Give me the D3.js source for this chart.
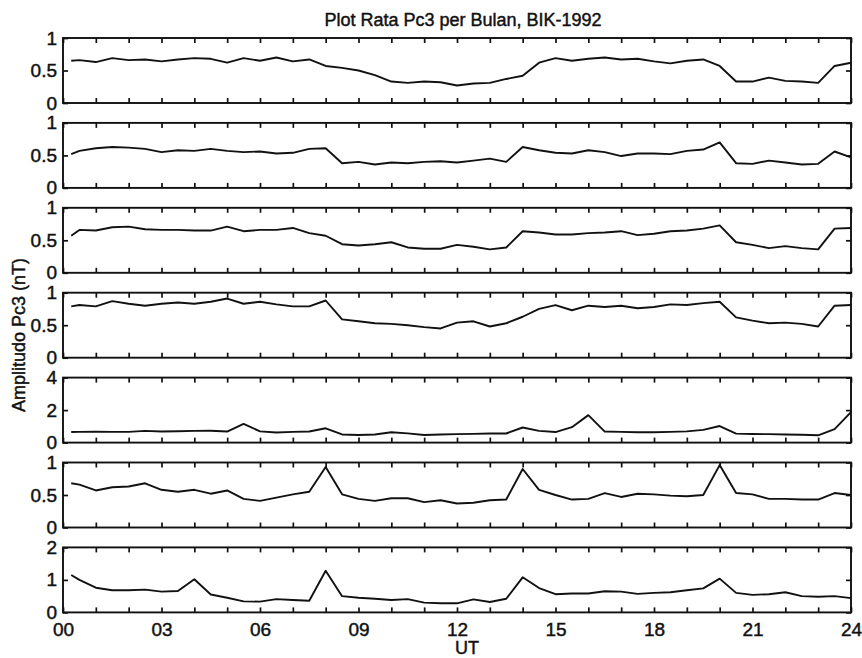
<!DOCTYPE html>
<html>
<head>
<meta charset="utf-8">
<title>Plot Rata Pc3 per Bulan, BIK-1992</title>
<script src="https://cdn.jsdelivr.net/npm/d3@7"></script>
<style>
  html, body { margin: 0; padding: 0; background: #fff; }
  svg { display: block; font-family: 'Liberation Sans', Arial, sans-serif; }
</style>
</head>
<body>
<div id="diagram"></div>
<script>
// - - - - - - - - - -
// data
const hours = [0.25, 0.5, 1, 1.5, 2, 2.5, 3, 3.5, 4, 4.5,
  5, 5.5, 6, 6.5, 7, 7.5, 8, 8.5, 9, 9.5,
  10, 10.5, 11, 11.5, 12, 12.5, 13, 13.5, 14, 14.5,
  15, 15.5, 16, 16.5, 17, 17.5, 18, 18.5, 19, 19.5,
  20, 20.5, 21, 21.5, 22, 22.5, 23, 23.5, 24];

const panel1 = [0.65, 0.66, 0.63, 0.69, 0.66, 0.67, 0.64, 0.67, 0.69, 0.68,
  0.62, 0.69, 0.65, 0.70, 0.64, 0.67, 0.57, 0.54, 0.50, 0.43,
  0.33, 0.31, 0.33, 0.32, 0.27, 0.30, 0.31, 0.37, 0.42, 0.62,
  0.69, 0.65, 0.68, 0.70, 0.67, 0.68, 0.64, 0.61, 0.65, 0.67,
  0.57, 0.33, 0.33, 0.39, 0.34, 0.33, 0.31, 0.57, 0.62];
const panel2 = [0.52, 0.57, 0.61, 0.63, 0.62, 0.60, 0.55, 0.58, 0.57, 0.60,
  0.57, 0.55, 0.56, 0.53, 0.54, 0.60, 0.61, 0.38, 0.40, 0.36,
  0.39, 0.38, 0.40, 0.41, 0.39, 0.42, 0.45, 0.40, 0.63, 0.58,
  0.54, 0.53, 0.58, 0.55, 0.49, 0.53, 0.53, 0.52, 0.57, 0.59,
  0.70, 0.38, 0.37, 0.42, 0.39, 0.36, 0.37, 0.56, 0.47];
const panel3 = [0.57, 0.66, 0.65, 0.70, 0.71, 0.67, 0.66, 0.66, 0.65, 0.65,
  0.71, 0.64, 0.66, 0.66, 0.69, 0.61, 0.57, 0.44, 0.42, 0.44,
  0.47, 0.39, 0.37, 0.37, 0.43, 0.40, 0.36, 0.39, 0.64, 0.62,
  0.59, 0.59, 0.61, 0.62, 0.64, 0.58, 0.60, 0.64, 0.65, 0.68,
  0.73, 0.47, 0.43, 0.38, 0.41, 0.38, 0.36, 0.68, 0.69];
const panel4 = [0.79, 0.81, 0.79, 0.87, 0.83, 0.80, 0.83, 0.85, 0.83, 0.86,
  0.91, 0.83, 0.86, 0.82, 0.79, 0.79, 0.88, 0.59, 0.56, 0.53,
  0.52, 0.50, 0.47, 0.45, 0.54, 0.56, 0.48, 0.53, 0.63, 0.75,
  0.81, 0.73, 0.80, 0.78, 0.80, 0.76, 0.78, 0.82, 0.81, 0.84,
  0.86, 0.62, 0.57, 0.53, 0.54, 0.52, 0.48, 0.80, 0.81];
const panel5 = [0.65, 0.66, 0.67, 0.66, 0.66, 0.72, 0.68, 0.70, 0.72, 0.73,
  0.68, 1.15, 0.69, 0.62, 0.66, 0.68, 0.88, 0.50, 0.47, 0.50,
  0.64, 0.57, 0.47, 0.50, 0.52, 0.54, 0.56, 0.56, 0.93, 0.72,
  0.65, 0.95, 1.69, 0.68, 0.66, 0.64, 0.64, 0.66, 0.69, 0.78,
  1.02, 0.55, 0.53, 0.52, 0.50, 0.48, 0.45, 0.83, 1.88];
const panel6 = [0.68, 0.66, 0.57, 0.62, 0.63, 0.68, 0.58, 0.55, 0.58, 0.52,
  0.57, 0.44, 0.41, 0.46, 0.51, 0.55, 0.93, 0.51, 0.44, 0.41,
  0.45, 0.45, 0.39, 0.42, 0.37, 0.38, 0.42, 0.43, 0.90, 0.58,
  0.50, 0.43, 0.44, 0.53, 0.47, 0.52, 0.51, 0.49, 0.48, 0.50,
  0.96, 0.53, 0.51, 0.44, 0.44, 0.43, 0.43, 0.53, 0.50];
const panel7 = [1.15, 1.00, 0.76, 0.68, 0.68, 0.70, 0.64, 0.66, 1.02, 0.55,
  0.45, 0.34, 0.33, 0.41, 0.38, 0.36, 1.28, 0.50, 0.45, 0.42,
  0.38, 0.41, 0.30, 0.28, 0.28, 0.40, 0.32, 0.42, 1.08, 0.75,
  0.56, 0.58, 0.58, 0.65, 0.64, 0.57, 0.60, 0.62, 0.68, 0.74,
  1.04, 0.60, 0.54, 0.56, 0.62, 0.50, 0.48, 0.50, 0.44];

const yDomains = [[0, 1], [0, 1], [0, 1], [0, 1], [0, 4], [0, 1], [0, 2]];
const yTicks = [[0, 0.5, 1], [0, 0.5, 1], [0, 0.5, 1], [0, 0.5, 1], [0, 2, 4], [0, 0.5, 1], [0, 1, 2]];
const hourTicks = [0, 1, 2, 3, 4, 5, 6, 7, 8, 9, 10, 11, 12,
  13, 14, 15, 16, 17, 18, 19, 20, 21, 22, 23, 24];
const xTickLabels = ['00', '03', '06', '09', '12', '15', '18', '21', '24'];

const title = 'Plot Rata Pc3 per Bulan, BIK-1992';
const xTitle = 'UT';
const yTitle = 'Amplitudo Pc3 (nT)';

!(function () {
  'use strict';
  // - - - - - - - - - -
  // declaration
  let
    canvas = undefined,
    svg = undefined,
    x = undefined,
    series = undefined,

    setCanvas = undefined,
    setPanel = undefined,
    setTitles = undefined,
    inkText = undefined;

  canvas = {
    width: 862,
    height: 658,
    plot: {
      left: 63,
      right: 851,
      top: 38,
      panelHeight: 65,
      step: 84.9
    },
    ink: '#111',
    fontSize: 18,
    tickFontSize: 19
  };

  series = [panel1, panel2, panel3, panel4, panel5, panel6, panel7];

  // methods
  // scanned print looks heavy, thicken the glyphs a bit
  inkText = function (sel, size) {
    sel.attr('fill', canvas.ink)
      .attr('stroke', canvas.ink)
      .attr('stroke-width', 0.45)
      .style('font-size', size + 'px');
  };

  setCanvas = function (contextSelector) {
    svg = d3.select(contextSelector)
      .append('svg')
      .attr('width', canvas.width)
      .attr('height', canvas.height);

    x = d3.scaleLinear()
      .domain([0, 24])
      .range([canvas.plot.left, canvas.plot.right]);
  };

  setPanel = function (values, i) {
    let
      top = canvas.plot.top + i * canvas.plot.step,
      bottom = top + canvas.plot.panelHeight,
      isLast = i === series.length - 1,
      y = d3.scaleLinear().domain(yDomains[i]).range([bottom, top]),
      g = svg.append('g'),
      line = d3.line()
        .x(function (d, k) { return x(hours[k]); })
        .y(function (d) { return y(d); });

    // inward hour ticks, top and bottom
    g.append('g')
      .attr('transform', 'translate(0,' + top + ')')
      .call(d3.axisBottom(x).tickValues(hourTicks).tickSize(5).tickFormat(''));

    g.append('g')
      .attr('transform', 'translate(0,' + bottom + ')')
      .call(d3.axisBottom(x).tickValues(hourTicks).tickSize(-5).tickPadding(10)
        .tickFormat(function (d) {
          return (isLast && d % 3 === 0) ? xTickLabels[d / 3] : '';
        }));

    // inward y ticks, left (with labels) and right
    g.append('g')
      .attr('transform', 'translate(' + canvas.plot.left + ',0)')
      .call(d3.axisLeft(y).tickValues(yTicks[i]).tickSize(-5).tickPadding(6)
        .tickFormat(d3.format('~g')));

    g.append('g')
      .attr('transform', 'translate(' + canvas.plot.right + ',0)')
      .call(d3.axisRight(y).tickValues(yTicks[i]).tickSize(-5).tickFormat(''));

    g.selectAll('.domain').remove();
    g.selectAll('.tick line')
      .attr('stroke', canvas.ink)
      .attr('stroke-width', 1.7);
    g.selectAll('.tick text').call(inkText, canvas.tickFontSize);

    // box
    g.append('rect')
      .attr('x', canvas.plot.left)
      .attr('y', top)
      .attr('width', canvas.plot.right - canvas.plot.left)
      .attr('height', canvas.plot.panelHeight)
      .attr('fill', 'none')
      .attr('stroke', canvas.ink)
      .attr('stroke-width', 1.9);

    // data line
    g.append('path')
      .datum(values)
      .attr('d', line)
      .attr('fill', 'none')
      .attr('stroke', canvas.ink)
      .attr('stroke-width', 1.9)
      .attr('stroke-linejoin', 'round');
  };

  setTitles = function () {
    svg.append('text')
      .attr('x', 463)
      .attr('y', 26)
      .attr('text-anchor', 'middle')
      .call(inkText, canvas.fontSize)
      .text(title);

    svg.append('text')
      .attr('x', (canvas.plot.left + canvas.plot.right) / 2 + 10)
      .attr('y', 653.5)
      .attr('text-anchor', 'middle')
      .call(inkText, canvas.fontSize)
      .text(xTitle);

    svg.append('text')
      .attr('transform', 'translate(25,335) rotate(-90)')
      .attr('text-anchor', 'middle')
      .call(inkText, canvas.fontSize)
      .text(yTitle);
  };

  // control
  setCanvas('#diagram');
  series.forEach(setPanel);
  setTitles();

  // - - - - - - - - - -
}());
</script>
</body>
</html>
